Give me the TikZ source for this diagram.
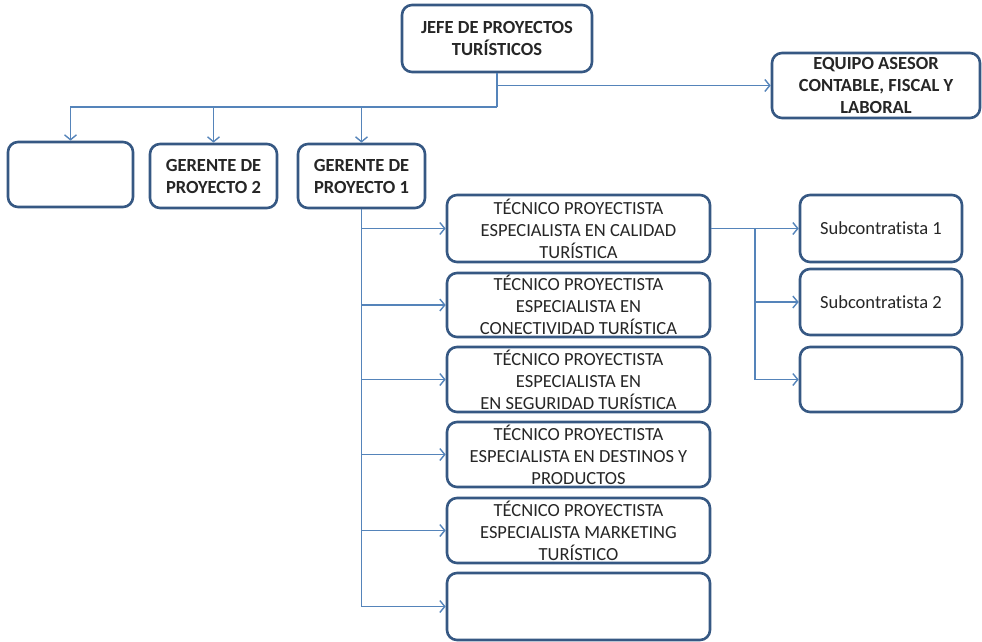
\documentclass[tikz,border=0pt]{standalone}
\usepackage{fontspec}
\setmainfont[Ligatures=NoCommon]{Carlito}
\usetikzlibrary{arrows.meta}
\definecolor{boxline}{HTML}{365883}
\definecolor{linkline}{HTML}{5584BA}
\definecolor{txt}{HTML}{262626}
\begin{document}
\begin{tikzpicture}[x=1pt,y=-1pt,
  box/.style={draw=boxline, line width=2.6pt, rounded corners=10pt, fill=white,
    inner sep=0pt, align=center, text=txt,
    font=\fontsize{18.5}{22}\selectfont},
  boldbox/.style={box, font=\fontsize{18.5}{22}\selectfont\bfseries},
  link/.style={draw=linkline, line width=1.5pt,
    -{Straight Barb[length=5pt,width=12pt,line width=1.4pt]}},
  plain/.style={draw=linkline, line width=1.5pt}]
\useasboundingbox (0,0) rectangle (982,642);

% top level
\node[boldbox, minimum width=190pt, minimum height=67pt] (jefe) at (497,38.5)
  {JEFE DE PROYECTOS\\TURÍSTICOS};
\node[boldbox, minimum width=208pt, minimum height=65pt] (equipo) at (876,85.5)
  {EQUIPO ASESOR\\CONTABLE, FISCAL Y\\LABORAL};

% project managers
\node[box, minimum width=125pt, minimum height=65pt] (blank0) at (70.5,174.5) {};
\node[boldbox, minimum width=127pt, minimum height=64pt] (g2) at (213.5,176)
  {GERENTE DE\\PROYECTO 2};
\node[boldbox, minimum width=127pt, minimum height=64pt] (g1) at (361.5,176)
  {GERENTE DE\\PROYECTO 1};

% specialist technicians
\node[box, minimum width=263pt, minimum height=67pt] (t1) at (578.5,228.5)
  {TÉCNICO PROYECTISTA\\ESPECIALISTA EN CALIDAD\\TURÍSTICA};
\node[box, minimum width=263pt, minimum height=64pt] (t2) at (578.5,305)
  {TÉCNICO PROYECTISTA\\ESPECIALISTA EN\\CONECTIVIDAD TURÍSTICA};
\node[box, minimum width=263pt, minimum height=65pt] (t3) at (578.5,379.5)
  {TÉCNICO PROYECTISTA\\ESPECIALISTA EN\\EN SEGURIDAD TURÍSTICA};
\node[box, minimum width=263pt, minimum height=65pt] (t4) at (578.5,454.5)
  {TÉCNICO PROYECTISTA\\ESPECIALISTA EN DESTINOS Y\\PRODUCTOS};
\node[box, minimum width=263pt, minimum height=65pt] (t5) at (578.5,530.5)
  {TÉCNICO PROYECTISTA\\ESPECIALISTA MARKETING\\TURÍSTICO};
\node[box, minimum width=263pt, minimum height=67pt] (t6) at (578.5,606.5) {};

% subcontractors
\node[box, minimum width=162pt, minimum height=67pt] (s1) at (881,228.5) {Subcontratista 1};
\node[box, minimum width=162pt, minimum height=66pt] (s2) at (881,302) {Subcontratista 2};
\node[box, minimum width=162pt, minimum height=65pt] (s3) at (881,379.5) {};

% connectors from the head
\coordinate (bus) at (497,107);
\draw[link] (jefe.south) |- (equipo.west);
\draw[plain] (jefe.south) -- (bus);
\draw[link] (bus) -| (blank0.north);
\draw[link] (bus) -| (g2.north);
\draw[link] (bus) -| (g1.north);

% connectors from project manager 1
\foreach \t in {t1,t2,t3,t4,t5,t6}
  \draw[link] (g1.south) |- (\t.west);

% connectors to subcontractors
\coordinate (sb) at (755,228.5);
\draw[link] (t1.east) -- (s1.west);
\draw[link] (sb) |- (s2.west);
\draw[link] (sb) |- (s3.west);
\end{tikzpicture}
\end{document}
